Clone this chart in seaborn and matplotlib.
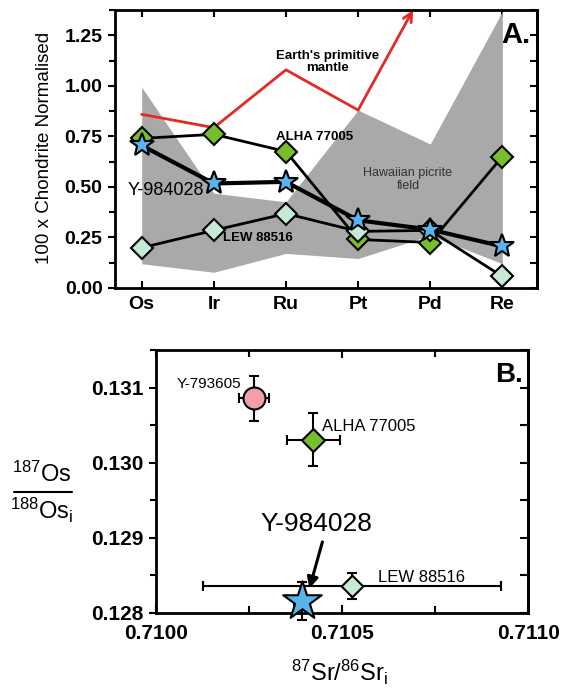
import numpy as np
import pandas as pd
import matplotlib
matplotlib.use('Agg')
import matplotlib.pyplot as plt
import seaborn as sns
from matplotlib.ticker import MultipleLocator
from matplotlib.lines import Line2D

# ---------------- data: panel A ----------------
elements = ['Os', 'Ir', 'Ru', 'Pt', 'Pd', 'Re']
alha_a = [0.74, 0.76, 0.675, 0.24, 0.225, 0.65]
y984_a = [0.705, 0.517, 0.525, 0.335, 0.289, 0.206]
lew_a = [0.199, 0.285, 0.368, 0.28, 0.285, 0.057]
mantle = [0.859, 0.793, 1.079, 0.880, 1.53]          # Os..Pd (Pd off scale)
field_upper = [0.993, 0.469, 0.426, 0.880, 0.712, 1.368]
field_lower = [0.12, 0.078, 0.171, 0.146, 0.26, 0.12]

# ---------------- data: panel B ----------------
samples_b = ['Y-793605', 'ALHA 77005', 'LEW 88516', 'Y-984028']
sr_b = [0.710263, 0.710423, 0.710526, 0.710391]
sr_err = [0.000041, 0.00007, 0.0004, 0.00002]
os_b = [0.130855, 0.130307, 0.128355, 0.128155]
os_err = [0.0003, 0.00035, 0.00017, 0.00025]

sns.set_theme(style='ticks')
plt.rcParams['font.family'] = ['Liberation Sans', 'DejaVu Sans']
plt.rcParams.update({
    'text.color': 'black', 'axes.labelcolor': 'black', 'xtick.color': 'black',
    'ytick.color': 'black', 'axes.edgecolor': 'black',
    'mathtext.fontset': 'custom', 'mathtext.rm': 'Liberation Sans',
    'mathtext.it': 'Liberation Sans:italic', 'mathtext.bf': 'Liberation Sans:bold',
})

GREEN = '#78be2a'
MINT = '#c6ead6'
BLUE = '#5ab4ec'
PINK = '#f0a0a6'
RED = '#e42a24'
GRAY = '#a9a9a9'

fig = plt.figure(figsize=(5.65, 6.93), dpi=100)
W, H = 565, 693
axA = fig.add_axes([115 / W, 1 - 288 / H, (537 - 115) / W, (288 - 10) / H])
axB = fig.add_axes([156 / W, 1 - 612.7 / H, (528.3 - 156) / W, (612.7 - 350) / H])

# ================= Panel A =================
pos = np.arange(len(elements))
axA.fill_between(pos, field_lower, field_upper, color=GRAY, lw=0, zorder=1)

sns.lineplot(x=pos[:4], y=mantle[:4], ax=axA, color=RED, lw=2, zorder=2)
ytop = 1.375
x_cross = 3 + (ytop - mantle[3]) / (mantle[4] - mantle[3])
axA.annotate('', xy=(x_cross, ytop), xytext=(3, mantle[3]),
             arrowprops=dict(arrowstyle='->', color=RED, lw=2, mutation_scale=16,
                             shrinkA=0, shrinkB=0), zorder=2)

sns.lineplot(x=pos, y=alha_a, ax=axA, color='black', lw=2, marker='D', markersize=11,
             markerfacecolor=GREEN, markeredgecolor='black', markeredgewidth=1.5, zorder=3)
sns.lineplot(x=pos, y=lew_a, ax=axA, color='black', lw=2, marker='D', markersize=11,
             markerfacecolor=MINT, markeredgecolor='black', markeredgewidth=1.5, zorder=4)
sns.lineplot(x=pos, y=y984_a, ax=axA, color='black', lw=3, marker='*', markersize=18,
             markerfacecolor=BLUE, markeredgecolor='black', markeredgewidth=1.5, zorder=5)

axA.set_xlim(-0.37, 5.48)
axA.set_ylim(0, ytop)
axA.set_xticks(pos)
axA.set_xticklabels(elements)
axA.set_yticks([0, 0.25, 0.5, 0.75, 1.0, 1.25])
axA.set_yticklabels(['0.00', '0.25', '0.50', '0.75', '1.00', '1.25'])
axA.yaxis.set_minor_locator(MultipleLocator(0.125))
axA.tick_params(axis='x', direction='in', top=True, bottom=True, length=5, width=1.5,
                labelsize=14, pad=6)
axA.tick_params(axis='y', which='both', direction='out', left=True, right=False,
                width=1.5, labelsize=14, pad=4)
axA.tick_params(axis='y', which='major', length=5)
axA.tick_params(axis='y', which='minor', length=4)
secA = axA.secondary_yaxis('right')
secA.set_yticks([0, 0.25, 0.5, 0.75, 1.0, 1.25])
secA.yaxis.set_minor_locator(MultipleLocator(0.125))
secA.tick_params(axis='y', which='both', direction='in', labelright=False, width=1.5, length=5)
secA.spines['right'].set_linewidth(2)
for lab in axA.get_xticklabels() + axA.get_yticklabels():
    lab.set_fontweight('bold')
for sp in axA.spines.values():
    sp.set_linewidth(2)
axA.set_xlabel('')
axA.set_ylabel('')

axA.text(2.58, 1.116, "Earth's primitive\nmantle", ha='center', va='center',
         fontsize=9.5, fontweight='bold', linespacing=1.0, zorder=6)
axA.text(2.39, 0.748, 'ALHA 77005', ha='center', va='center', fontsize=9.5,
         fontweight='bold', zorder=6)
axA.text(0.33, 0.484, 'Y-984028', ha='center', va='center', fontsize=13, zorder=6)
axA.text(1.13, 0.247, 'LEW 88516', ha='left', va='center', fontsize=9.5,
         fontweight='bold', zorder=6)
axA.text(3.69, 0.538, 'Hawaiian picrite\nfield', ha='center', va='center', fontsize=9,
         color='#333333', linespacing=1.1, zorder=6)
axA.text(0.985, 0.91, 'A.', transform=axA.transAxes, ha='right', va='center',
         fontsize=21, fontweight='bold', zorder=6)
fig.text(45 / W, 1 - 148 / H, '100 x Chondrite Normalised', rotation=90,
         ha='center', va='center', fontsize=13.5)

# ================= Panel B =================
axB.errorbar(sr_b, os_b, xerr=sr_err, yerr=os_err, fmt='none', ecolor='black',
             elinewidth=1.5, capsize=3.5, capthick=1.5, zorder=2, clip_on=False)
dfB = pd.DataFrame({'sample': samples_b, 'sr': sr_b, 'os': os_b})
markers_b = {'Y-793605': ('o', PINK, 250), 'ALHA 77005': ('D', GREEN, 137),
             'LEW 88516': ('D', MINT, 121), 'Y-984028': ('*', BLUE, 850)}
for s in samples_b:
    m, c, size = markers_b[s]
    sub = dfB[dfB['sample'] == s]
    sns.scatterplot(data=sub, x='sr', y='os', ax=axB, marker=m, color=c, s=size,
                    edgecolor='black', linewidth=1.5, zorder=3, clip_on=False, legend=False)

axB.set_xlim(0.7100, 0.7110)
axB.set_ylim(0.128, 0.1315)
axB.set_xticks([0.7100, 0.7105, 0.7110])
axB.set_xticklabels(['0.7100', '0.7105', '0.7110'])
axB.set_yticks([0.128, 0.129, 0.130, 0.131])
axB.set_yticklabels(['0.128', '0.129', '0.130', '0.131'])
axB.xaxis.set_minor_locator(MultipleLocator(0.00025))
axB.yaxis.set_minor_locator(MultipleLocator(0.0005))
axB.tick_params(axis='x', which='both', direction='in', top=True, bottom=True,
                width=1.5, labelsize=15, pad=8)
axB.tick_params(axis='x', which='major', length=6)
axB.tick_params(axis='x', which='minor', length=5)
axB.tick_params(axis='y', which='both', direction='out', left=True, right=False,
                width=1.5, labelsize=15, pad=4)
axB.tick_params(axis='y', which='major', length=5)
axB.tick_params(axis='y', which='minor', length=4)
secB = axB.secondary_yaxis('right')
secB.set_yticks([0.128, 0.129, 0.130, 0.131])
secB.yaxis.set_minor_locator(MultipleLocator(0.0005))
secB.tick_params(axis='y', which='both', direction='in', labelright=False, width=1.5, length=6)
secB.spines['right'].set_linewidth(2)
for lab in axB.get_xticklabels() + axB.get_yticklabels():
    lab.set_fontweight('bold')
for sp in axB.spines.values():
    sp.set_linewidth(2)
axB.set_xlabel('')
axB.set_ylabel('')

axB.text(0.71023, 0.13105, 'Y-793605', ha='right', va='center', fontsize=11)
axB.text(0.710445, 0.130484, 'ALHA 77005', ha='left', va='center', fontsize=12)
axB.text(0.710597, 0.12847, 'LEW 88516', ha='left', va='center', fontsize=12)
axB.text(0.710432, 0.129187, 'Y-984028', ha='center', va='center', fontsize=19)
axB.annotate('', xy=(0.710412, 0.128324), xytext=(0.710447, 0.128943),
             arrowprops=dict(arrowstyle='-|>', color='black', lw=2.2, mutation_scale=16,
                             shrinkA=0, shrinkB=0), zorder=6)
axB.text(0.985, 0.905, 'B.', transform=axB.transAxes, ha='right', va='center',
         fontsize=20, fontweight='bold')

fig.text(340 / W, 1 - 672 / H, r'$^{87}$Sr/$^{86}$Sr$_{\mathrm{i}}$', ha='center',
         va='center', fontsize=17)
fig.text(42 / W, 1 - 474 / H, r'$^{187}$Os', ha='center', va='center', fontsize=17)
fig.text(42 / W, 1 - 510 / H, r'$^{188}$Os$_{\mathrm{i}}$', ha='center', va='center', fontsize=17)
fig.add_artist(Line2D([14 / W, 72 / W], [1 - 492 / H, 1 - 492 / H], color='black', lw=1.5))

fig.savefig('out.png', dpi=100)
